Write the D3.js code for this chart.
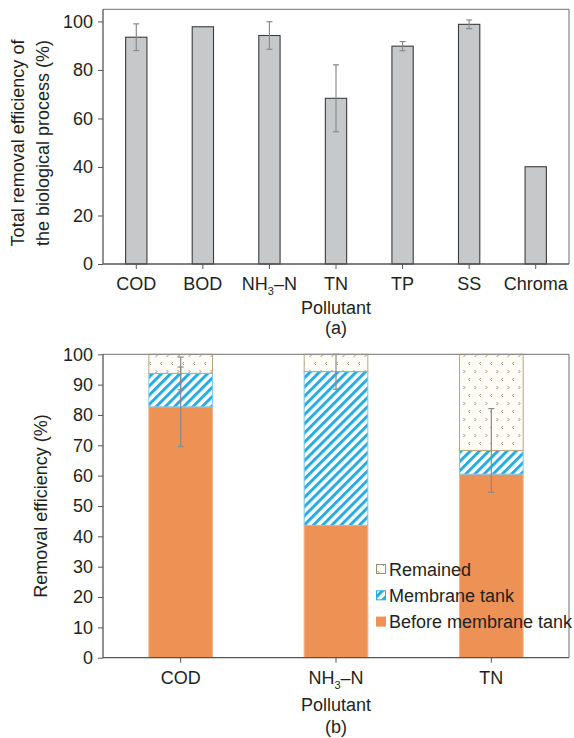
<!DOCTYPE html>
<html>
<head>
<meta charset="utf-8">
<script src="https://cdn.jsdelivr.net/npm/d3@7"></script>
<style>
  body { margin: 0; background: #fff; }
  text { font-family: "Liberation Sans", Arial, sans-serif; fill: #231f20; }
</style>
</head>
<body>
<svg id="chart" width="574" height="738"></svg>
<script>
// panel (a)
var categoriesA = ["COD", "BOD", "NH3-N", "TN", "TP", "SS", "Chroma"];
var valuesA = [93.5, 97.8, 94.2, 68.3, 89.8, 98.8, 40.1];
var errorsA = [5.5, 0, 5.7, 13.8, 1.9, 1.8, 0];
var ticksA = [0, 20, 40, 60, 80, 100];

// panel (b)
var categoriesB = ["COD", "NH3-N", "TN"];
var beforeTank = [82.7, 43.6, 60.5];
var membraneTank = [11.0, 50.7, 7.8];
var remained = [6.3, 5.7, 31.7];
var totalErr = [5.4, 5.8, 13.8];
var beforeErr = [13.1, 0, 0];
var ticksB = [0, 10, 20, 30, 40, 50, 60, 70, 80, 90, 100];
var seriesB = ["Remained", "Membrane tank", "Before membrane tank"];

var svg = d3.select("#chart");
var defs = svg.append("defs");

// stripes for membrane tank
var stripe = defs.append("pattern")
    .attr("id", "stripes")
    .attr("patternUnits", "userSpaceOnUse")
    .attr("width", 6.5).attr("height", 6.5)
    .attr("patternTransform", "rotate(45)");
stripe.append("rect").attr("width", 6.5).attr("height", 6.5).attr("fill", "#fff");
stripe.append("rect").attr("width", 3).attr("height", 6.5).attr("fill", "#29abe2");

// little chevrons for remained
var dots = defs.append("pattern")
    .attr("id", "dots")
    .attr("patternUnits", "userSpaceOnUse")
    .attr("width", 11).attr("height", 16);
dots.append("rect").attr("width", 11).attr("height", 16).attr("fill", "#fdfcf7");
dots.append("path").attr("d", "M1.5,2 L3,3.5 L1.5,5").attr("fill", "none")
    .attr("stroke", "#9a8f6c").attr("stroke-width", 1);
dots.append("path").attr("d", "M8,10 L6.5,11.5 L8,13").attr("fill", "none")
    .attr("stroke", "#9a8f6c").attr("stroke-width", 1);

function nh3(sel, x, y) {
    var t = sel.append("text").attr("x", x).attr("y", y)
        .attr("text-anchor", "middle").style("font-size", "18px");
    t.append("tspan").text("NH");
    t.append("tspan").attr("dy", 5).style("font-size", "11px").text("3");
    t.append("tspan").attr("dy", -5).text("\u2013N");
    return t;
}

function catLabels(g, x, cats, y) {
    cats.forEach(function(c) {
        if (c === "NH3-N") nh3(g, x(c) + x.bandwidth() / 2, y);
        else g.append("text").attr("x", x(c) + x.bandwidth() / 2).attr("y", y)
            .attr("text-anchor", "middle").style("font-size", "18px").text(c);
    });
}

function frame(g, left, right, top, bottom) {
    g.append("line").attr("x1", left).attr("x2", right).attr("y1", top).attr("y2", top)
        .attr("stroke", "#8c8c8c").attr("stroke-width", 1.3);
    g.append("line").attr("x1", right).attr("x2", right).attr("y1", top).attr("y2", bottom)
        .attr("stroke", "#8c8c8c").attr("stroke-width", 1.3);
    g.append("line").attr("x1", left).attr("x2", right).attr("y1", bottom).attr("y2", bottom)
        .attr("stroke", "#555").attr("stroke-width", 1.3);
    g.append("line").attr("x1", left).attr("x2", left).attr("y1", top).attr("y2", bottom)
        .attr("stroke", "#555").attr("stroke-width", 1.3);
}

function errBar(g, cx, lo, hi, cap) {
    g.append("line").attr("x1", cx).attr("x2", cx).attr("y1", lo).attr("y2", hi)
        .attr("stroke", "#8a8a8a").attr("stroke-width", 1.2);
    [lo, hi].forEach(function(yy) {
        g.append("line").attr("x1", cx - cap).attr("x2", cx + cap).attr("y1", yy).attr("y2", yy)
            .attr("stroke", "#8a8a8a").attr("stroke-width", 1.2);
    });
}

// ---------- panel (a)
var left = 103, right = 569;
var xA = d3.scaleBand().domain(categoriesA).range([left, right]).paddingInner(0.68).paddingOuter(0.34);
var yA = d3.scaleLinear().domain([0, 105]).range([264, 9.3]);
var gA = svg.append("g");

gA.selectAll("rect.bar").data(valuesA).enter().append("rect")
    .attr("class", "bar")
    .attr("x", function(d, i) { return xA(categoriesA[i]); })
    .attr("y", function(d) { return yA(d); })
    .attr("width", xA.bandwidth())
    .attr("height", function(d) { return yA(0) - yA(d); })
    .attr("fill", "#c7c8ca").attr("stroke", "#3c3c3c").attr("stroke-width", 1.1);

valuesA.forEach(function(d, i) {
    if (errorsA[i] > 0)
        errBar(gA, xA(categoriesA[i]) + xA.bandwidth() / 2, yA(d - errorsA[i]), yA(d + errorsA[i]), 3);
});

frame(gA, left, right, yA(105), yA(0));

var axA = gA.append("g").attr("transform", "translate(" + left + ",0)")
    .call(d3.axisLeft(yA).tickValues(ticksA).tickSize(5).tickSizeOuter(0).tickPadding(5));
axA.select(".domain").remove();
axA.selectAll("line").attr("stroke", "#555");
axA.selectAll("text").style("font-size", "18px").style("font-family", "Liberation Sans, Arial, sans-serif").attr("fill", "#231f20");

categoriesA.forEach(function(c) {
    var cx = xA(c) + xA.bandwidth() / 2;
    gA.append("line").attr("x1", cx).attr("x2", cx).attr("y1", yA(0)).attr("y2", yA(0) + 5).attr("stroke", "#555");
});
catLabels(gA, xA, categoriesA, 290);

gA.append("text").attr("x", (left + right) / 2).attr("y", 314).attr("text-anchor", "middle")
    .style("font-size", "18px").text("Pollutant");
gA.append("text").attr("x", (left + right) / 2).attr("y", 334).attr("text-anchor", "middle")
    .style("font-size", "18px").text("(a)");

var labA = gA.append("text").attr("transform", "translate(24,143) rotate(-90)")
    .attr("text-anchor", "middle").style("font-size", "18px");
labA.append("tspan").attr("x", 0).attr("dy", 0).text("Total removal efficiency of");
labA.append("tspan").attr("x", 0).attr("dy", 25).text("the biological process (%)");

// ---------- panel (b)
var xB = d3.scaleBand().domain(categoriesB).range([left, right]).paddingInner(0.59).paddingOuter(0.295);
var yB = d3.scaleLinear().domain([0, 100]).range([657.7, 354.3]);
var gB = svg.append("g");

var rows = categoriesB.map(function(c, i) {
    return { cat: c, before: beforeTank[i], membrane: membraneTank[i], remained: remained[i] };
});
var stack = d3.stack().keys(["before", "membrane", "remained"])(rows);
var fills = { before: "#ee9155", membrane: "url(#stripes)", remained: "url(#dots)" };
var strokes = { before: "#f4b48a", membrane: "#7fc9ec", remained: "#b3a784" };

stack.forEach(function(layer) {
    gB.selectAll("rect." + layer.key).data(layer).enter().append("rect")
        .attr("class", layer.key)
        .attr("x", function(d) { return xB(d.data.cat); })
        .attr("y", function(d) { return yB(d[1]); })
        .attr("width", xB.bandwidth())
        .attr("height", function(d) { return yB(d[0]) - yB(d[1]); })
        .attr("fill", fills[layer.key])
        .attr("stroke", strokes[layer.key]).attr("stroke-width", 1);
});

categoriesB.forEach(function(c, i) {
    var cx = xB(c) + xB.bandwidth() / 2;
    var tot = beforeTank[i] + membraneTank[i];
    errBar(gB, cx, yB(tot - totalErr[i]), yB(Math.min(100, tot + totalErr[i])), 3);
    if (beforeErr[i] > 0)
        errBar(gB, cx, yB(beforeTank[i] - beforeErr[i]), yB(beforeTank[i] + beforeErr[i]), 3);
});

frame(gB, left, right, yB(100), yB(0));

var axB = gB.append("g").attr("transform", "translate(" + left + ",0)")
    .call(d3.axisLeft(yB).tickValues(ticksB).tickSize(5).tickSizeOuter(0).tickPadding(5));
axB.select(".domain").remove();
axB.selectAll("line").attr("stroke", "#555");
axB.selectAll("text").style("font-size", "18px").style("font-family", "Liberation Sans, Arial, sans-serif").attr("fill", "#231f20");

categoriesB.forEach(function(c) {
    var cx = xB(c) + xB.bandwidth() / 2;
    gB.append("line").attr("x1", cx).attr("x2", cx).attr("y1", yB(0)).attr("y2", yB(0) + 5).attr("stroke", "#555");
});
catLabels(gB, xB, categoriesB, 684);

gB.append("text").attr("x", (left + right) / 2).attr("y", 711).attr("text-anchor", "middle")
    .style("font-size", "18px").text("Pollutant");
gB.append("text").attr("x", (left + right) / 2).attr("y", 733).attr("text-anchor", "middle")
    .style("font-size", "18px").text("(b)");

gB.append("text").attr("transform", "translate(47,506) rotate(-90)")
    .attr("text-anchor", "middle").style("font-size", "18px").text("Removal efficiency (%)");

// legend
var legFill = { "Remained": "url(#dots)", "Membrane tank": "url(#stripes)", "Before membrane tank": "#ee9155" };
var legStroke = { "Remained": "#9a8f6c", "Membrane tank": "#29abe2", "Before membrane tank": "#ee9155" };
var leg = gB.append("g").attr("transform", "translate(376,569)");
seriesB.forEach(function(s, i) {
    var row = leg.append("g").attr("transform", "translate(0," + (i * 26.3) + ")");
    row.append("rect").attr("x", 0.5).attr("y", -4.5).attr("width", 9).attr("height", 9)
        .attr("fill", legFill[s]).attr("stroke", legStroke[s]);
    row.append("text").attr("x", 13).attr("y", 6.5).style("font-size", "18px").text(s);
});
</script>
</body>
</html>
